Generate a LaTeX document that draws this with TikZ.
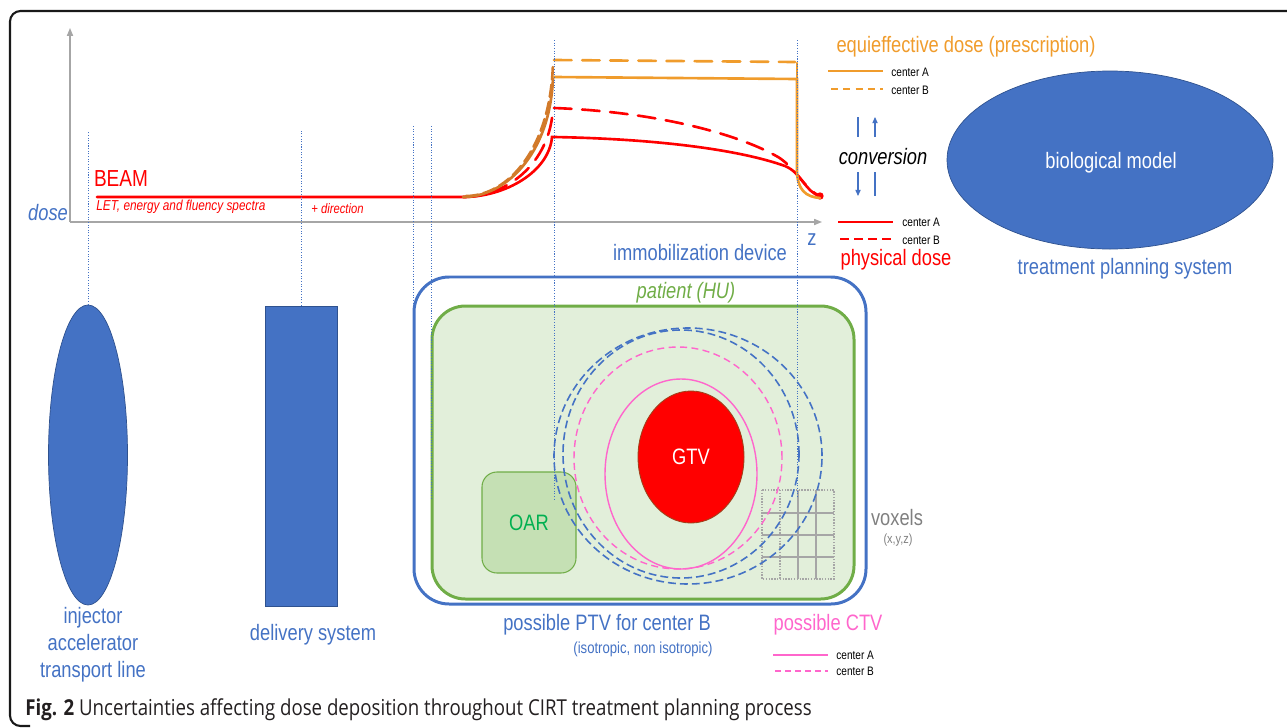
\documentclass[tikz,border=0pt]{standalone}
\usepackage{fontspec}
\setmainfont{Liberation Sans}[FakeStretch=0.82]
\newfontfamily\capfont{Open Sans}[FakeStretch=0.85]
\usetikzlibrary{shapes.geometric,arrows.meta}
\definecolor{tblue}{HTML}{4472C4}
\definecolor{tdblue}{HTML}{2F528F}
\definecolor{tred}{HTML}{FF0000}
\definecolor{torange}{HTML}{F09C2C}
\definecolor{tbrown}{HTML}{D27A2A}
\definecolor{tgreen}{HTML}{70AD47}
\definecolor{tlgreen}{HTML}{E2EFDA}
\definecolor{toar}{HTML}{C5E0B4}
\definecolor{toartext}{HTML}{00B050}
\definecolor{tpink}{HTML}{FF66CC}
\definecolor{tgrey}{HTML}{A6A6A6}
\definecolor{tdgrey}{HTML}{808080}
\definecolor{tcap}{HTML}{231F20}
\definecolor{tgtvedge}{HTML}{A0401A}
\def\PX{0.02cm}
\begin{document}
\begin{tikzpicture}[x=0.02cm,y=-0.02cm,
  lbl/.style={inner sep=0pt, font=\fontsize{12.7}{15}\selectfont},
  smalllbl/.style={inner sep=0pt, font=\fontsize{7}{8}\selectfont, anchor=west},
  guide/.style={draw=tblue, line width=0.5pt, dash pattern=on 0.6pt off 0.9pt},
  dosecurve/.style={line width=1.5pt, line cap=round},
  bigdash/.style={dash pattern=on 10pt off 6pt},
  ptvdash/.style={draw=tblue, line width=0.9pt, dash pattern=on 4.5pt off 2.3pt},
  ctvdash/.style={draw=tpink, line width=0.8pt, dash pattern=on 4pt off 2.5pt},
  legline/.style={line width=0.8pt},
  axis/.style={draw=tgrey, line width=0.7pt, -{Triangle[length=4.5pt,width=3.5pt]}},
  convarrow/.style={draw=tblue, line width=0.6pt},
  solidshape/.style={fill=tblue, draw=tdblue, line width=0.4pt, inner sep=0pt}
]
\useasboundingbox (0,0) rectangle (1287,727);

% frame
\draw[line width=1.2pt, draw=black!90, rounded corners=6pt] (1290,11) -- (10,11) -- (10,726) -- (30,726);

% axes
\coordinate (origin) at (70,222);
\draw[axis] (origin) -- (70,28);
\draw[axis] (origin) -- (822,222);
\node[lbl, text=tblue, font=\fontsize{12.7}{15}\selectfont\itshape] (doselbl) at (48,213) {dose};
\node[lbl, text=tblue] (zlbl) at (812,240) {z};

% left shapes
\node[solidshape, ellipse, minimum width=79*\PX, minimum height=300*\PX] (inj) at (88,455) {};
\node[solidshape, rectangle, minimum width=72*\PX, minimum height=300*\PX] (deliv) at (301,456) {};
\node[lbl, text=tblue, align=center, font=\fontsize{12.7}{15.3}\selectfont] (injlbl) at (93,645) {injector\\accelerator\\transport line};
\node[lbl, text=tblue] (delivlbl) at (313,635) {delivery system};

% biological model
\node[solidshape, ellipse, minimum width=326*\PX, minimum height=178*\PX] (bio) at (1110,160) {};
\node[lbl, text=white] (biolbl) at (1111,163) {biological model};
\node[lbl, text=tblue] (tps) at (1125,269) {treatment planning system};

% immobilization device and patient
\node[draw=tblue, line width=1.7pt, rounded corners=20pt, minimum width=452*\PX, minimum height=327*\PX, inner sep=0pt] (immo) at (640,440.5) {};
\node[draw=tgreen, fill=tlgreen, line width=1.7pt, rounded corners=19pt, minimum width=422*\PX, minimum height=293*\PX, inner sep=0pt] (pat) at (643,452.5) {};
\node[lbl, text=tblue] (immolbl) at (700,253) {immobilization device};
\node[lbl, text=tgreen, font=\fontsize{12.7}{15}\selectfont\itshape] (patlbl) at (686,293) {patient (HU)};

% OAR
\node[draw=tgreen, fill=toar, line width=0.6pt, rounded corners=8.5pt, minimum width=94*\PX, minimum height=101*\PX, inner sep=0pt, text=toartext, font=\fontsize{12.7}{15}\selectfont] (oar) at (529,522.5) {OAR};

% voxel grid
\draw[tgrey, line width=0.6pt, dash pattern=on 0.8pt off 0.8pt] (762,490) rectangle (834,579);
\draw[tgrey, line width=0.6pt, dash pattern=on 0.8pt off 0.8pt] (780,490) -- (780,579);
\draw[tgrey, line width=0.9pt] (798,490) -- (798,579) (816,490) -- (816,579)
  (762,513) -- (834,513) (762,535) -- (834,535) (762,557) -- (834,557);
\node[lbl, text=tdgrey] (voxlbl) at (897,518) {voxels};
\node[inner sep=0pt, text=tdgrey, font=\fontsize{7.6}{9}\selectfont] (xyz) at (898,540) {(x,y,z)};

% PTV and CTV
\draw[ptvdash] (688,456) ellipse [x radius=134*\PX, y radius=128*\PX];
\draw[ptvdash] (681,454) ellipse [x radius=118*\PX, y radius=124*\PX];
\draw[ctvdash] (678,458) ellipse [x radius=104*\PX, y radius=111*\PX];
\draw[tpink, line width=0.8pt] (681,474) ellipse [x radius=76*\PX, y radius=95*\PX];

% GTV
\node[ellipse, fill=tred, draw=tgtvedge, line width=0.5pt, minimum width=106*\PX, minimum height=132*\PX, inner sep=0pt, text=white, font=\fontsize{12.7}{15}\selectfont] (gtv) at (691,457) {GTV};

% labels below
\node[lbl, text=tblue] (ptvlbl) at (607,625) {possible PTV for center B};
\node[inner sep=0pt, text=tblue, font=\fontsize{9.1}{11}\selectfont] (isolbl) at (643,649) {(isotropic, non isotropic)};
\node[lbl, text=tpink] (ctvlbl) at (828,625) {possible CTV};
\coordinate (pa1) at (773,655); \coordinate (pa2) at (828,655);
\coordinate (pb1) at (775,671); \coordinate (pb2) at (828,671);
\draw[tpink, legline] (pa1) -- (pa2);
\draw[tpink, legline, dash pattern=on 3.5pt off 2.2pt] (pb1) -- (pb2);
\node[smalllbl] (pA) at (836,655) {center A};
\node[smalllbl] (pB) at (836,671) {center B};

% dose curves: physical (red)
\draw[tred, dosecurve] (97,197) -- (463,197) .. controls (505,197) and (549,172) .. (552,137) -- (554,137)
  .. controls (660,139) and (740,150) .. (785,166) .. controls (802,173) and (805,192) .. (820,196);
\draw[tred, dosecurve, bigdash] (463,197) .. controls (505,197) and (550,165) .. (553,108);
\draw[tred, dosecurve, bigdash] (554,108) .. controls (660,112) and (740,135) .. (778,157) .. controls (796,168) and (805,190) .. (820,196);
\fill[tred] (820,196) circle [radius=2.1pt];

% equieffective (orange)
\draw[tbrown, dosecurve] (463,197) .. controls (505,197) and (550,155) .. (553,78);
\draw[tbrown, dosecurve, dash pattern=on 7pt off 3pt] (466,196) .. controls (507,196) and (551,150) .. (553,62);
\draw[torange, dosecurve] (554,77) -- (797,79) -- (797,170) .. controls (797,190) and (806,197) .. (820,198);
\draw[torange, dosecurve, bigdash] (554,60) -- (795,62);
\draw[torange, dosecurve] (797,63) -- (797,80);

% beam labels
\node[lbl, text=tred, font=\fontsize{13.2}{15}\selectfont] (beam) at (121,179) {BEAM};
\node[inner sep=0pt, anchor=west, text=tred, font=\fontsize{8.2}{10}\selectfont\itshape] (let) at (96,207) {LET, energy and fluency spectra};
\node[inner sep=0pt, anchor=west, text=tred, font=\fontsize{7.8}{10}\selectfont\itshape] (dir) at (311,209) {+ direction};

% legends top right
\node[lbl, text=torange] (equi) at (966,47) {equieffective dose (prescription)};
\coordinate (oa1) at (828,71); \coordinate (oa2) at (883,71);
\coordinate (ob1) at (831,89); \coordinate (ob2) at (883,89);
\draw[torange, legline] (oa1) -- (oa2);
\draw[torange, legline, dash pattern=on 4pt off 3pt] (ob1) -- (ob2);
\node[smalllbl] (oA) at (891,72) {center A};
\node[smalllbl] (oB) at (891,90) {center B};

\node[lbl, font=\fontsize{12.7}{15}\selectfont\itshape] (conv) at (883,157) {conversion};
\coordinate (c1t) at (858,117); \coordinate (c1b) at (858,137);
\coordinate (c2t) at (875,117); \coordinate (c2b) at (875,137);
\coordinate (c3t) at (858,172); \coordinate (c3b) at (858,196);
\coordinate (c4t) at (875,172); \coordinate (c4b) at (875,196);
\draw[convarrow] (c1t) -- (c1b);
\draw[convarrow, -{Triangle[length=3.5pt,width=3pt]}] (c2b) -- (c2t);
\draw[convarrow, -{Triangle[length=3.5pt,width=3pt]}] (c3t) -- (c3b);
\draw[convarrow] (c4t) -- (c4b);

\coordinate (ra1) at (838,222); \coordinate (ra2) at (893,222);
\coordinate (rb1) at (840,239); \coordinate (rb2) at (893,239);
\draw[tred, line width=1pt] (ra1) -- (ra2);
\draw[tred, line width=1pt, dash pattern=on 5pt off 3pt] (rb1) -- (rb2);
\node[smalllbl] (rA) at (902,222) {center A};
\node[smalllbl] (rB) at (902,240) {center B};
\node[lbl, text=tred] (phys) at (896,260) {physical dose};

% guides
\coordinate (g1) at (88,131);
\coordinate (g2) at (301,131);
\coordinate (g3t) at (413,126); \coordinate (g3b) at (413,313);
\coordinate (g4t) at (431,126); \coordinate (g4b) at (431,500);
\coordinate (g5t) at (554,40); \coordinate (g5b) at (554,500);
\coordinate (g6t) at (797,40); \coordinate (g6b) at (797,498);
\draw[guide] (inj.north) -- (g1);
\draw[guide] (deliv.north) -- (g2);
\draw[guide] (g3t) -- (g3b);
\draw[guide] (g4t) -- (g4b);
\draw[guide] (g5t) -- (g5b);
\draw[guide] (g6t) -- (g6b);

% caption
\node[inner sep=0pt, anchor=west, text=tcap, font=\capfont\fontsize{12.5}{14}\selectfont] (cap) at (25,710) {\textbf{Fig. 2} Uncertainties affecting dose deposition throughout CIRT treatment planning process};
\end{tikzpicture}
\end{document}
